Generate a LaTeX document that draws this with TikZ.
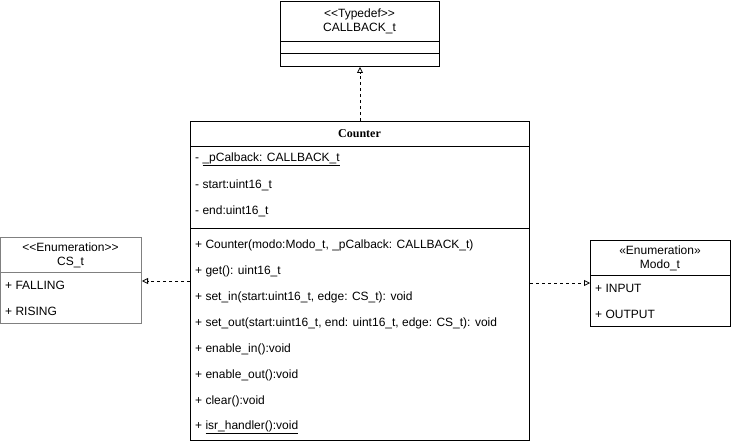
\documentclass[tikz,border=0pt]{standalone}
\usepackage{fontspec}
\setmainfont{Liberation Sans}
\newfontfamily\serifbf{Liberation Serif}
\usetikzlibrary{arrows.meta}
\tikzset{
  box/.style={draw, line width=1pt, anchor=north west, inner sep=0pt},
  sep/.style={line width=1pt},
  item/.style={anchor=west, inner sep=0pt, font=\fontsize{12}{14}\selectfont},
  ctext/.style={align=center, inner sep=0pt, font=\fontsize{12}{14}\selectfont},
  dep/.style={dashed, dash pattern=on 3pt off 3pt, line width=0.8pt, -{Triangle[open, length=6pt, width=6pt]}}
}
\begin{document}
\begin{tikzpicture}[x=1pt,y=-1pt]
\useasboundingbox (0,0) rectangle (731,444);
% CALLBACK_t
\node[box, minimum width=159pt, minimum height=65pt] (cb) at (280,1) {};
\draw[sep] (280,42) -- (439,42);
\draw[sep] (280,54) -- (439,54);
\node[ctext] (cbt) at (359.5,21) {<{}<Typedef>{}>\\CALLBACK\_t};
% Counter
\node[box, minimum width=339pt, minimum height=319pt] (ct) at (190,121) {};
\draw[sep] (190,146) -- (529,146);
\draw[sep] (190,228) -- (529,228);
\node[inner sep=0pt, font=\serifbf\bfseries\fontsize{12}{14}\selectfont] (cth) at (359.5,134) {Counter};
\node[item] (a1) at (195,159) {- \underline{\_pCalback: CALLBACK\_t}};
\node[item] (a2) at (195,185) {- start:uint16\_t};
\node[item] (a3) at (195,211) {- end:uint16\_t};
\node[item] (m1) at (195,245) {+ Counter(modo:Modo\_t, \_pCalback: CALLBACK\_t)};
\node[item] (m2) at (195,271) {+ get(): uint16\_t};
\node[item] (m3) at (195,297) {+ set\_in(start:uint16\_t, edge: CS\_t): void};
\node[item] (m4) at (195,323) {+ set\_out(start:uint16\_t, end: uint16\_t, edge: CS\_t): void};
\node[item] (m5) at (195,349) {+ enable\_in():void};
\node[item] (m6) at (195,375) {+ enable\_out():void};
\node[item] (m7) at (195,401) {+ clear():void};
\node[item] (m8) at (195,427) {+ \underline{isr\_handler():void}};
% CS_t
\node[box, draw=gray, minimum width=141pt, minimum height=86pt] (cs) at (0,237) {};
\draw[sep, gray] (0,272) -- (141,272);
\node[ctext] (cst) at (70.5,255) {<{}<Enumeration>{}>\\CS\_t};
\node[item] (c1) at (5,285) {+ FALLING};
\node[item] (c2) at (5,311) {+ RISING};
% Modo_t
\node[box, minimum width=140pt, minimum height=86pt] (md) at (590,240) {};
\draw[sep] (590,275) -- (730,275);
\node[ctext] (mdt) at (660,258) {«Enumeration»\\Modo\_t};
\node[item] (d1) at (595,288) {+ INPUT};
\node[item] (d2) at (595,314) {+ OUTPUT};
% dependencies
\draw[dep] (ct.north) -- (cb.south);
\draw[dep] (ct.west |- 0,281) -- (cs.east |- 0,281);
\draw[dep] (ct.east |- 0,283) -- (md.west |- 0,283);
\end{tikzpicture}
\end{document}
